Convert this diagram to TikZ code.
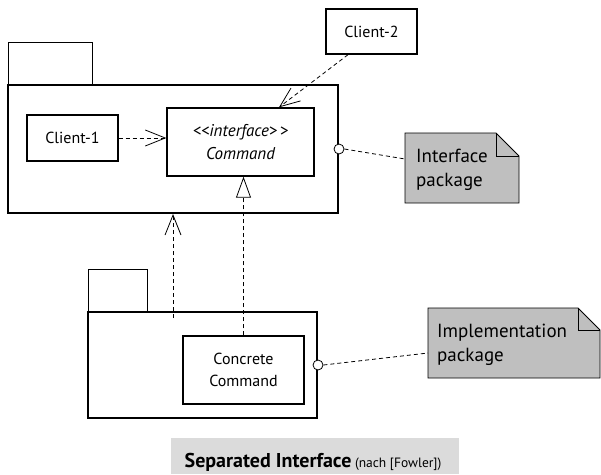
\documentclass[tikz,border=0pt]{standalone}
\usepackage{fontspec}
\setmainfont{PT Sans}
\usetikzlibrary{arrows.meta,calc}
\tikzset{
  box/.style={draw,line width=1.4pt,fill=white,inner sep=0pt,align=center,font=\fontsize{16}{22}\selectfont},
  pkg/.style={draw,line width=2pt,inner sep=0pt},
  tab/.style={draw,line width=0.8pt},
  dashln/.style={line width=0.8pt,dash pattern=on 4pt off 3pt},
  dep/.style={dashln,-{Straight Barb[length=20pt,width=16pt,line width=0.8pt]}},
  real/.style={dashln,-{Triangle[open,length=21pt,width=15pt,line width=0.8pt]}},
  note/.style={draw,line width=0.8pt,fill=black!25},
  notetext/.style={anchor=base west,align=left,inner sep=0pt,font=\fontsize{19}{24}\selectfont},
  port/.style={circle,draw,line width=0.8pt,fill=white,minimum size=10pt,inner sep=0pt}
}
\begin{document}
\begin{tikzpicture}[x=1pt,y=-1pt]
\useasboundingbox (0,0) rectangle (601,474);
% top package
\draw[tab] (8,85) -- (8,42) -- (92,42) -- (92,85);
\node[pkg,minimum width=330pt,minimum height=128pt] (toppkg) at (173,149) {};
\node[box,minimum width=91pt,minimum height=46pt] (client1) at (72.5,138) {Client-1};
\node[box,minimum width=147pt,minimum height=68pt,font=\fontsize{17}{23}\selectfont] (command) at (240.5,142) {\itshape <{}<interface>\,> \\ \itshape Command};
\node[box,minimum width=91pt,minimum height=45pt] (client2) at (371.5,31.5) {Client-2};
% bottom package
\draw[tab] (88,312) -- (88,269) -- (147,269) -- (147,312);
\node[pkg,minimum width=229pt,minimum height=106pt] (botpkg) at (202.5,365) {};
\node[box,minimum width=121pt,minimum height=68pt] (concrete) at (243.5,370) {Concrete\\Command};
% notes
\draw[note] (405,133) -- (496,133) -- (519,156) -- (519,203) -- (405,203) -- cycle;
\draw[line width=0.8pt] (496,133) -- (496,156) -- (519,156);
\node[notetext] (inote) at (416,186) {Interface\\package};
\draw[note] (428,308) -- (578,308) -- (600,330) -- (600,378) -- (428,378) -- cycle;
\draw[line width=0.8pt] (578,308) -- (578,330) -- (600,330);
\node[notetext] (mnote) at (437,361) {Implementation\\package};
\coordinate (inoteW) at (405,159);
\coordinate (mnoteW) at (428,353);
% ports
\node[port] (p1) at (toppkg.east |- 0,149) {};
\node[port] (p2) at (botpkg.east |- 0,365) {};
\draw[dashln] (p1.east) -- (inoteW);
\draw[dashln] (p2.east) -- (mnoteW);
% connectors
\draw[dep] (client1.east) -- (command.west |- client1.east);
\draw[dep] ($(client2.south)+(-23.5,0)$) -- ($(command.north)+(38.5,0)$);
\coordinate (depstart) at (173,318);
\draw[dep] (depstart) -- (depstart |- toppkg.south);
\draw[real] (concrete.north) -- (concrete.north |- command.south);
% caption
\fill[black!14] (171,438) rectangle (459,474);
\node[anchor=base,font=\fontsize{13.5}{16}\selectfont] (caption) at (313,467) {{\fontsize{20}{24}\selectfont\bfseries Separated Interface} (nach [Fowler])};
\end{tikzpicture}
\end{document}
